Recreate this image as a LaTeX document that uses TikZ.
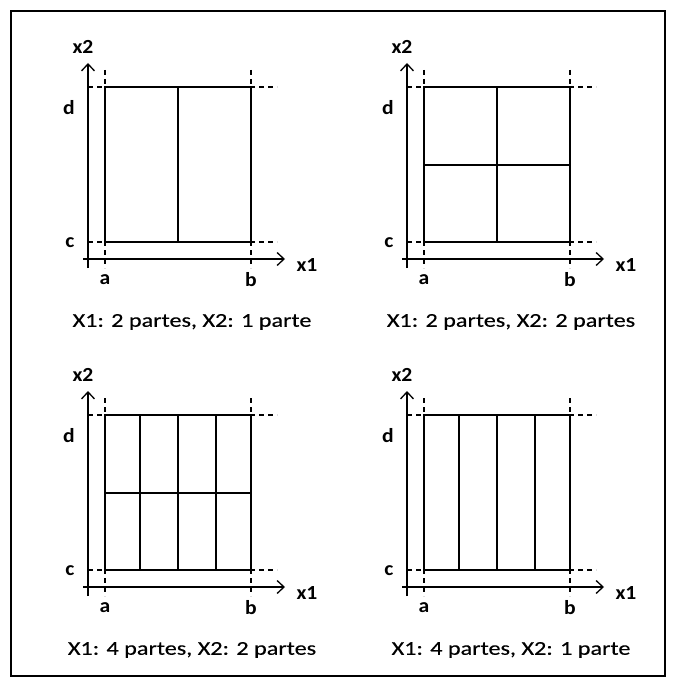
\documentclass[tikz,border=0pt]{standalone}
\usepackage{fontspec}
\setmainfont{Carlito}
\newfontfamily\capfont{Carlito}[FakeStretch=1.24,FakeBold=0.4]
\newfontfamily\labfont{Carlito}[FakeStretch=1.08]
\usetikzlibrary{arrows.meta}
\tikzset{
  solidline/.style={line width=1.3pt, black},
  dashline/.style={line width=1.1pt, black, dash pattern=on 5pt off 4pt},
  axisline/.style={line width=1.3pt, black, -{Straight Barb[length=7pt,width=13pt,line width=1.3pt]}},
  labtext/.style={inner sep=0pt, font=\labfont\bfseries\fontsize{20}{22}\selectfont},
  captext/.style={inner sep=0pt, font=\capfont\fontsize{19.5}{22}\selectfont},
}
\newcommand\gridpanel[4]{%
\begin{scope}[shift={#2}]
  \coordinate (#1yb) at (88,268); \coordinate (#1yt) at (88,63);
  \coordinate (#1xl) at (83,259); \coordinate (#1xr) at (285,259);
  \coordinate (#1at) at (105,70); \coordinate (#1ab) at (105,268);
  \coordinate (#1bt) at (251,70); \coordinate (#1bb) at (251,268);
  \coordinate (#1dl) at (88,87); \coordinate (#1dr) at (277,87);
  \coordinate (#1cl) at (88,242); \coordinate (#1cr) at (277,242);
  \coordinate (#1r1) at (105,87); \coordinate (#1r2) at (251,242);
  \draw[dashline] (#1at) -- (#1ab);
  \draw[dashline] (#1bt) -- (#1bb);
  \draw[dashline] (#1dl) -- (#1dr);
  \draw[dashline] (#1cl) -- (#1cr);
  \draw[solidline] (#1r1) rectangle (#1r2);
  #3
  \draw[axisline] (#1yb) -- (#1yt);
  \draw[axisline] (#1xl) -- (#1xr);
  \node[labtext] (#1x2) at (83,47) {x2};
  \node[labtext] (#1d) at (69,108) {d};
  \node[labtext] (#1c) at (70,243) {c};
  \node[labtext] (#1a) at (105,280) {a};
  \node[labtext] (#1b) at (251,280) {b};
  \node[labtext] (#1x1) at (307,265) {x1};
  \node[captext] (#1cap) at (192,322) {#4};
\end{scope}}
\begin{document}
\begin{tikzpicture}[x=1pt,y=-1pt]
\useasboundingbox (0,0) rectangle (676,687);
\draw[line width=2.5pt] (11,11) rectangle (665,676);
\gridpanel{p}{(0,0)}{\draw[solidline] (178,87) -- (178,242);}{X1: 2 partes, X2: 1 parte}
\gridpanel{q}{(319,0)}{\draw[solidline] (178,87) -- (178,242); \draw[solidline] (105,165) -- (251,165);}{X1: 2 partes, X2: 2 partes}
\gridpanel{r}{(0,328)}{\foreach \xx in {140,178,216}{\draw[solidline] (\xx,87) -- (\xx,242);} \draw[solidline] (105,165) -- (251,165);}{X1: 4 partes, X2: 2 partes}
\gridpanel{s}{(319,328)}{\foreach \xx in {140,178,216}{\draw[solidline] (\xx,87) -- (\xx,242);}}{X1: 4 partes, X2: 1 parte}
\end{tikzpicture}
\end{document}
